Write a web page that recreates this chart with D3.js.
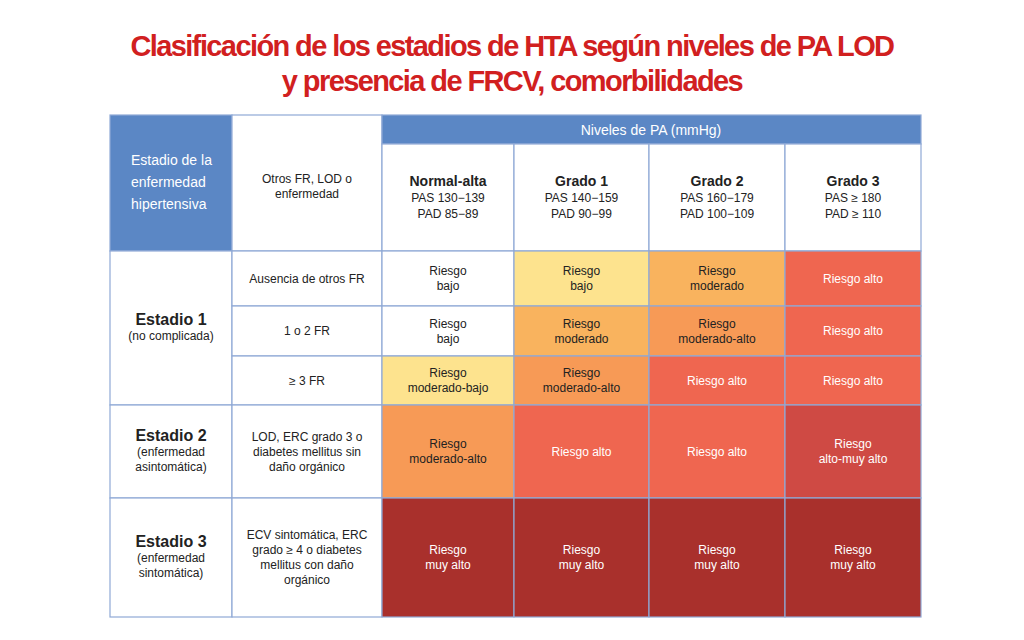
<!DOCTYPE html><html><head><meta charset="utf-8">
<script src="https://cdn.jsdelivr.net/npm/d3@7"></script>
<style>body{margin:0;background:#fff}</style></head><body><svg id="c" width="1024" height="640"></svg>
<script>
const titleLines=["Clasificación de los estadios de HTA según niveles de PA LOD","y presencia de FRCV, comorbilidades"];
const colHeads=[["Normal-alta","PAS 130−139","PAD 85−89"],["Grado 1","PAS 140−159","PAD 90−99"],["Grado 2","PAS 160−179","PAD 100−109"],["Grado 3","PAS ≥ 180","PAD ≥ 110"]];
const rowFactors=[["Ausencia de otros FR"],["1 o 2 FR"],["≥  3 FR"],["LOD, ERC grado 3 o","diabetes mellitus sin","daño orgánico"],["ECV sintomática, ERC","grado ≥  4 o diabetes","mellitus con daño","orgánico"]];
const stages=[{name:"Estadio 1",sub:["(no complicada)"],from:0,to:2},{name:"Estadio 2",sub:["(enfermedad","asintomática)"],from:3,to:3},{name:"Estadio 3",sub:["(enfermedad","sintomática)"],from:4,to:4}];
const risk=[
 ["bajo","bajo","moderado","alto"],
 ["bajo","moderado","moderado-alto","alto"],
 ["moderado-bajo","moderado-alto","alto","alto"],
 ["moderado-alto","alto","alto","alto-muy alto"],
 ["muy alto","muy alto","muy alto","muy alto"]];
const riskColor={"bajo0":"#ffffff","bajo":"#fde38e","moderado":"#f9b35e","moderado-bajo":"#fde38e","moderado-alto":"#f79a56","alto":"#ef6650","alto-muy alto":"#cf4a44","muy alto":"#a9302c"};
const riskText={"bajo":["Riesgo","bajo"],"moderado":["Riesgo","moderado"],"moderado-bajo":["Riesgo","moderado-bajo"],"moderado-alto":["Riesgo","moderado-alto"],"alto":["Riesgo alto"],"alto-muy alto":["Riesgo","alto-muy alto"],"muy alto":["Riesgo","muy alto"]};
const colEdges=[110,232,382,514,649,785,921];
const rowEdges=[251,306,356,405,498,617];
const svg=d3.select("#c");
const blue="#5b87c5",line="#8fa9d6";
svg.selectAll("text.t").data(titleLines).join("text").attr("x",512).attr("y",(d,i)=>56+i*35)
 .attr("text-anchor","middle").attr("fill","#d1201f").attr("font-family","Liberation Sans Narrow, Liberation Sans, Arial").attr("font-weight","bold").attr("font-size",29).attr("letter-spacing","-1.6").text(d=>d);
function cell(x0,y0,x1,y1,fill){svg.append("rect").attr("x",x0).attr("y",y0).attr("width",x1-x0).attr("height",y1-y0).attr("fill",fill).attr("stroke",line).attr("stroke-width",1.2);}
function txt(x,yc,lines,opts={}){const lh=opts.lh||15;const n=lines.length;const y0=yc-(n-1)*lh/2+4;
 lines.forEach((l,i)=>{svg.append("text").attr("x",x).attr("y",y0+i*lh).attr("text-anchor",opts.anchor||"middle").attr("font-family","Liberation Sans, Arial").attr("font-size",(opts.sizes&&opts.sizes[i])||opts.size||12).attr("font-weight",(opts.bold&&opts.bold[i])?"bold":"normal").attr("fill",opts.fill||"#222").text(l);});}
// header
cell(110,115,232,251,blue);
txt(131,183,["Estadio de la","enfermedad","hipertensiva"],{anchor:"start",fill:"#fff",size:14,lh:22});
cell(232,115,382,251,"#fff");
txt(307,186,["Otros FR, LOD o","enfermedad"],{size:12,lh:15});
cell(382,115,921,144,blue);
txt(651,131,["Niveles de PA (mmHg)"],{fill:"#fff",size:14});
colHeads.forEach((h,i)=>{const x0=colEdges[i+2],x1=colEdges[i+3];cell(x0,144,x1,251,"#fff");
 txt((x0+x1)/2,198,h,{sizes:[14,12,12],bold:[1,0,0],lh:16});});
// stages
stages.forEach(s=>{const y0=rowEdges[s.from],y1=rowEdges[s.to+1];cell(110,y0,232,y1,"#fff");
 txt(171,(y0+y1)/2,[s.name].concat(s.sub),{sizes:[16,12,12],bold:[1,0,0],lh:15});});
rowFactors.forEach((f,r)=>{const y0=rowEdges[r],y1=rowEdges[r+1];cell(232,y0,382,y1,"#fff");txt(307,(y0+y1)/2,f,{size:12,lh:15});});
risk.forEach((row,r)=>row.forEach((k,c)=>{const x0=colEdges[c+2],x1=colEdges[c+3],y0=rowEdges[r],y1=rowEdges[r+1];
 const fill=(c===0&&k==="bajo")?"#ffffff":riskColor[k];cell(x0,y0,x1,y1,fill);
 const white=["alto","alto-muy alto","muy alto"].includes(k);
 txt((x0+x1)/2,(y0+y1)/2,riskText[k],{size:12,lh:15,fill:white?"#fff":"#222"});}));
</script></body></html>
